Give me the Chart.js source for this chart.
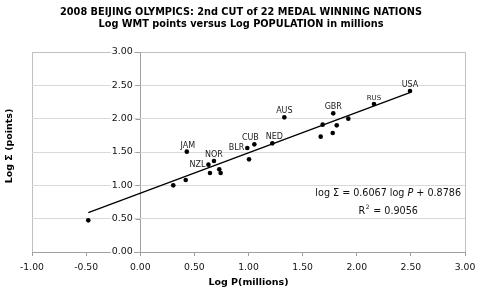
<!DOCTYPE html>
<html>
<head>
<meta charset="utf-8">
<script src="https://cdn.jsdelivr.net/npm/chart.js@4.4.1/dist/chart.umd.min.js"></script>
<style>
  html, body { margin: 0; padding: 0; background: #fff; }
  #wrap { width: 485px; height: 291px; position: relative; }
</style>
</head>
<body>
<div id="wrap"><canvas id="scatterChart"></canvas></div>
<script>
// 2008 Beijing Olympics - log WMT points vs log population (22 nations)

const logP = [-0.48, 0.305, 0.42, 0.43, 0.63, 0.644, 0.681, 0.73, 0.743, 0.989, 1.005,
              1.054, 1.22, 1.331, 1.667, 1.685, 1.778, 1.783, 1.815, 1.922, 2.159, 2.492];
const logS = [0.475, 1.00, 1.08, 1.505, 1.31, 1.185, 1.365, 1.24, 1.185, 1.56, 1.39,
              1.615, 1.63, 2.02, 1.73, 1.91, 1.785, 2.08, 1.90, 2.00, 2.22, 2.415];
const nations = ['', '', '', 'JAM', 'NZL', '', 'NOR', '', '', 'BLR', '',
                 'CUB', 'NED', 'AUS', '', '', '', 'GBR', '', '', 'RUS', 'USA'];

// fitted trend line end points
const trendX = [-0.48, 2.49];
const trendY = [0.59, 2.39];

const xTicks = [-1, -0.5, 0, 0.5, 1, 1.5, 2, 2.5, 3];
const yTicks = [0, 0.5, 1, 1.5, 2, 2.5, 3];

const titleLines = ['2008 BEIJING OLYMPICS: 2nd CUT of 22 MEDAL WINNING NATIONS',
                    'Log WMT points versus Log POPULATION in millions'];

// how each label sits next to its dot
const labelSide = { BLR: 'left', NZL: 'left' };
const labelShift = { CUB: -4, NED: 2, JAM: 1 };

Chart.defaults.font.family = 'DejaVu Sans, Verdana, sans-serif';
Chart.defaults.color = '#111';

const texts = {
    id: 'texts',
    beforeDatasetsDraw(c) {
        // short tick marks on the left of the y axis (which crosses at x = 0)
        const xs = c.scales.x, ys = c.scales.y;
        const x0 = Math.round(xs.getPixelForValue(0)) + 0.5;
        const ctx = c.ctx;
        ctx.save();
        ctx.strokeStyle = '#a0a0a0';
        ctx.lineWidth = 1;
        ctx.beginPath();
        yTicks.forEach(v => {
            const y = Math.round(ys.getPixelForValue(v)) + 0.5;
            ctx.moveTo(x0 - 5, y);
            ctx.lineTo(x0, y);
        });
        ctx.stroke();
        ctx.restore();
    },
    afterDraw(c) {
        const ctx = c.ctx;
        ctx.save();

        // title
        ctx.fillStyle = '#000';
        ctx.font = 'bold 9.75px DejaVu Sans';
        ctx.textAlign = 'center';
        ctx.textBaseline = 'middle';
        ctx.fillText(titleLines[0], 241, 12.5);
        ctx.fillText(titleLines[1], 241, 24.5);

        // nation labels
        const meta = c.getDatasetMeta(1);
        ctx.fillStyle = '#222';
        meta.data.forEach((pt, i) => {
            const name = nations[i];
            if (!name) return;
            ctx.font = (name === 'RUS' ? '7px' : '8px') + ' DejaVu Sans';
            if (labelSide[name] === 'left') {
                ctx.textAlign = 'right';
                ctx.textBaseline = 'middle';
                ctx.fillText(name, pt.x - 3, pt.y);
            } else {
                ctx.textAlign = 'center';
                ctx.textBaseline = 'alphabetic';
                ctx.fillText(name, pt.x + (labelShift[name] || 0), pt.y - 4);
            }
        });

        // regression equation
        const a = c.chartArea;
        ctx.fillStyle = '#111';
        ctx.textBaseline = 'middle';
        ctx.textAlign = 'left';
        const fs = '9.6px DejaVu Sans';
        const eqRight = a.right - 4;
        const parts = [['log \u03A3 = 0.6067 log ', ''], ['P', 'italic '], [' + 0.8786', '']];
        let w = 0;
        parts.forEach(p => { ctx.font = p[1] + fs; w += ctx.measureText(p[0]).width; });
        let x = eqRight - w;
        parts.forEach(p => {
            ctx.font = p[1] + fs;
            ctx.fillText(p[0], x, 193);
            x += ctx.measureText(p[0]).width;
        });
        const mid = eqRight - w / 2;
        ctx.font = fs;
        const r1 = 'R', r2 = ' = 0.9056';
        const rw = ctx.measureText(r1).width + ctx.measureText(r2).width + 5;
        let rx = mid - rw / 2;
        ctx.fillText(r1, rx, 211);
        rx += ctx.measureText(r1).width;
        ctx.font = '6px DejaVu Sans';
        ctx.fillText('2', rx + 0.5, 207);
        rx += 5;
        ctx.font = fs;
        ctx.fillText(r2, rx, 211);

        // y axis title
        ctx.fillStyle = '#000';
        ctx.font = 'bold 9.5px DejaVu Sans';
        ctx.textAlign = 'center';
        ctx.translate(10, 146);
        ctx.rotate(-Math.PI / 2);
        ctx.fillText('Log \u03A3 (points)', 0, 0);
        ctx.restore();
    }
};

// vertical lines only at the frame edges and at x = 0 (the y axis)
const xGridColor = (ctx) => {
    const v = ctx.tick ? ctx.tick.value : null;
    if (v === 0) return '#a0a0a0';
    if (v === -1 || v === 3) return '#c0c0c0';
    return 'rgba(0,0,0,0)';
};

new Chart(document.getElementById('scatterChart'), {
    type: 'scatter',
    data: {
        datasets: [
            {
                type: 'line',
                data: trendX.map((v, i) => ({ x: v, y: trendY[i] })),
                borderColor: '#000',
                borderWidth: 1.4,
                pointRadius: 0,
                fill: false
            },
            {
                data: logP.map((v, i) => ({ x: v, y: logS[i] })),
                backgroundColor: '#000',
                borderColor: '#000',
                pointRadius: 2.3,
                borderWidth: 0
            }
        ]
    },
    options: {
        responsive: true,
        maintainAspectRatio: false,
        animation: false,
        layout: { padding: { left: 32, right: 20, top: 52, bottom: 0 } },
        plugins: {
            legend: { display: false },
            tooltip: { enabled: false },
            title: { display: false }
        },
        scales: {
            x: {
                type: 'linear',
                position: 'bottom',
                min: -1,
                max: 3,
                afterBuildTicks: (s) => { s.ticks = xTicks.map(v => ({ value: v })); },
                afterFit: (s) => { s.height = 39; },
                ticks: {
                    font: { size: 9.25 },
                    color: '#111',
                    padding: 6,
                    callback: (v) => v.toFixed(2)
                },
                grid: {
                    drawOnChartArea: true,
                    drawTicks: true,
                    tickLength: 4,
                    color: xGridColor,
                    tickColor: '#a0a0a0'
                },
                border: { color: '#a0a0a0' },
                title: {
                    display: true,
                    text: 'Log P(millions)',
                    font: { size: 9.5, weight: 'bold' },
                    color: '#000',
                    padding: { top: 0, bottom: 3 }
                }
            },
            y: {
                type: 'linear',
                position: { x: -0.068 },
                min: 0,
                max: 3,
                afterBuildTicks: (s) => { s.ticks = yTicks.map(v => ({ value: v })); },
                ticks: {
                    font: { size: 9.5 },
                    color: '#111',
                    showLabelBackdrop: true,
                    backdropColor: '#fff',
                    backdropPadding: 1,
                    callback: (v) => v.toFixed(2)
                },
                grid: {
                    color: (ctx) => (ctx.tick && ctx.tick.value === 3 ? '#c0c0c0' : '#d9d9d9'),
                    drawTicks: false
                },
                border: { display: false }
            }
        }
    },
    plugins: [texts]
});
</script>
</body>
</html>
